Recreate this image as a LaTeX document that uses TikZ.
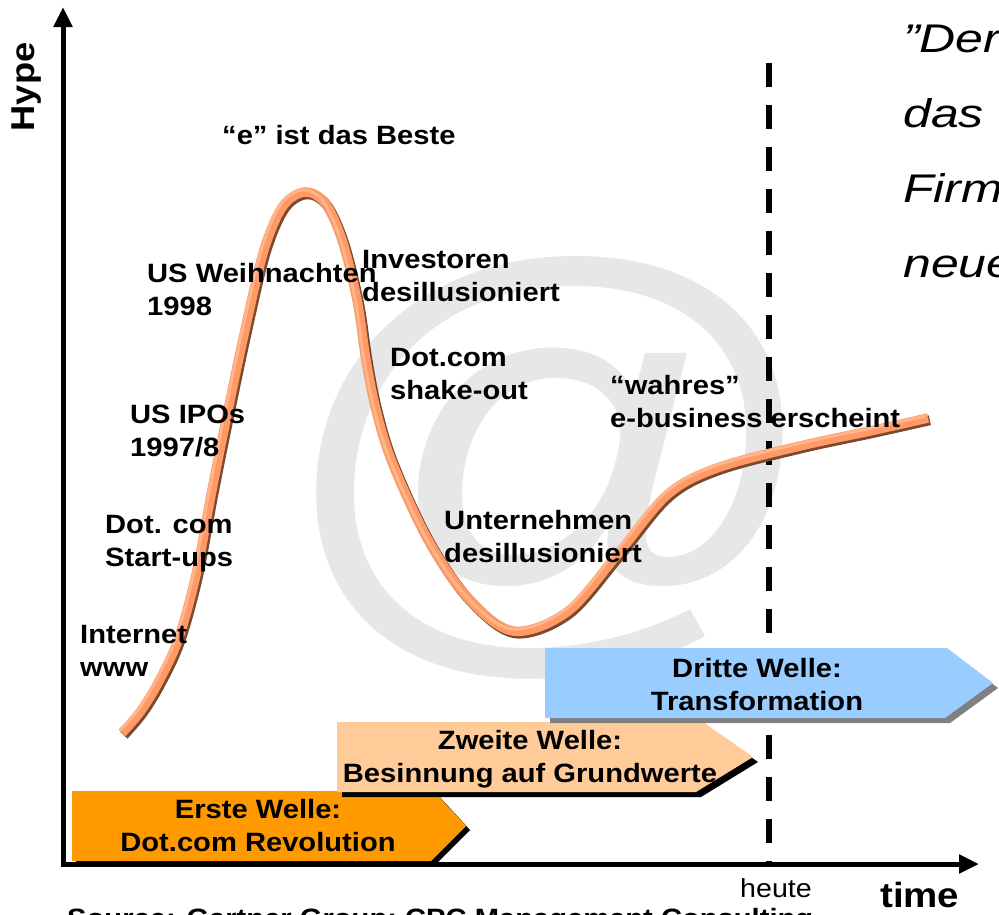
\documentclass[tikz,border=0pt]{standalone}
\usepackage{fontspec}
\setmainfont[FakeStretch=1.1]{Liberation Sans}
\newfontfamily\quotefont[FakeStretch=1.25]{Liberation Sans}
\newfontfamily\wmfont[FakeStretch=1.12]{Liberation Sans}
\usetikzlibrary{arrows.meta}
\definecolor{ersteC}{HTML}{FF9900}
\definecolor{zweiteC}{HTML}{FFCC99}
\definecolor{dritteC}{HTML}{99CCFF}
\definecolor{dritteS}{HTML}{808080}
\definecolor{hypeC}{HTML}{FF9966}
\definecolor{hypeS}{HTML}{7A4A2E}
\definecolor{hypeH}{HTML}{FFBC96}
\definecolor{wmC}{HTML}{E7E7E7}
\begin{document}
\begin{tikzpicture}[x=1pt,y=-1pt,
  lbl/.style={font=\fontsize{26.5}{33}\selectfont\bfseries, align=left, anchor=north west, inner sep=0pt},
  wtxt/.style={font=\fontsize{26.5}{33}\selectfont\bfseries, align=center, inner sep=0pt},
  axisline/.style={line width=5pt, line join=miter, {Triangle[length=20pt,width=18pt]}-{Triangle[length=20pt,width=18pt]}},
  dashline/.style={line width=6pt, dash pattern=on 24pt off 18pt},
  hypeshadow/.style={draw=hypeS, line width=10pt, shift={(1.8,2.2)}},
  hypebody/.style={draw=hypeC, line width=9.5pt},
  hypehigh/.style={draw=hypeH, line width=3pt, shift={(-2.2,-2.2)}}]
\useasboundingbox (0,0) rectangle (999,914);
\fill[white] (0,0) rectangle (999,914);

% watermark
\node[text=wmC, font=\fontsize{490}{490}\selectfont\wmfont, inner sep=0pt] (at) at (552,468) {@};

% dashed "heute" line
\coordinate (dtop) at (769,63);
\coordinate (dbot) at (769,864);
\draw[dashline] (dtop) -- (dbot);

% hype curve
\draw[hypeshadow] plot[smooth, tension=0.55] coordinates {(122,733) (140,712) (158,683) (178,640) (196,575) (211,495) (226,420) (245,330) (264,250) (283,206) (305,192) (325,203) (342,240) (357,300) (366,360) (376,410) (392,462) (427,538) (467,597) (513,631) (567,612) (617,555) (667,495) (717,468) (800,446) (870,431) (928,418)};
\draw[hypebody] plot[smooth, tension=0.55] coordinates {(122,733) (140,712) (158,683) (178,640) (196,575) (211,495) (226,420) (245,330) (264,250) (283,206) (305,192) (325,203) (342,240) (357,300) (366,360) (376,410) (392,462) (427,538) (467,597) (513,631) (567,612) (617,555) (667,495) (717,468) (800,446) (870,431) (928,418)};
\draw[hypehigh, opacity=0.8] plot[smooth, tension=0.55] coordinates {(122,733) (140,712) (158,683) (178,640) (196,575) (211,495) (226,420) (245,330) (264,250) (283,206) (305,192) (325,203) (342,240) (357,300) (366,360) (376,410) (392,462) (427,538) (467,597) (513,631) (567,612) (617,555) (667,495) (717,468) (800,446) (870,431) (928,418)};

% labels
\node[lbl] (beste) at (222,125) {“e” ist das Beste};
\node[lbl] (weihn) at (147,263) {US Weihnachten\\1998};
\node[lbl] (invest) at (362,250) {Investoren\\desillusioniert};
\node[lbl] (shake) at (390,348) {Dot.com\\shake-out};
\node[lbl] (ipos) at (130,405) {US IPOs\\1997/8};
\node[lbl] (wahres) at (610,375) {“wahres”\\e-business erscheint};
\node[lbl] (startups) at (105,515) {Dot. com\\Start-ups};
\node[lbl] (untern) at (444,510) {Unternehmen\\desillusioniert};
\node[lbl] (internet) at (80,625) {Internet\\www};

% waves
\fill[black, shift={(4,4)}] (72,791) -- (434,791) -- (466,826) -- (431,861) -- (72,861) -- cycle;
\fill[ersteC] (72,791) -- (434,791) -- (466,826) -- (431,861) -- (72,861) -- cycle;
\node[wtxt] (erste) at (258,826) {Erste Welle:\\Dot.com Revolution};

\fill[black, shift={(5,5)}] (337,722) -- (703,722) -- (753,757) -- (696,792) -- (337,792) -- cycle;
\fill[zweiteC] (337,722) -- (703,722) -- (753,757) -- (696,792) -- (337,792) -- cycle;
\node[wtxt] (zweite) at (530,759) {Zweite Welle:\\Besinnung auf Grundwerte};

\fill[dritteS, shift={(5,5)}] (545,648) -- (947,648) -- (993,683) -- (945,718) -- (545,718) -- cycle;
\fill[dritteC] (545,648) -- (947,648) -- (993,683) -- (945,718) -- (545,718) -- cycle;
\node[wtxt] (dritte) at (757,685) {Dritte Welle:\\Transformation};

% axes
\coordinate (ytip) at (63,7);
\coordinate (O) at (63,864);
\coordinate (xtip) at (979,864);
\draw[axisline] (ytip) -- (O) -- (xtip);

\node[font=\fontsize{33}{33}\selectfont\bfseries, rotate=90, inner sep=0pt] (hype) at (27,87) {Hype};
\node[font=\fontsize{35}{35}\selectfont\bfseries, anchor=base west, inner sep=0pt] (time) at (880,907) {time};
\node[font=\fontsize{26}{26}\selectfont, anchor=base west, inner sep=0pt] (heute) at (740,897) {heute};

% quote (cut at right edge)
\node[font=\fontsize{40}{75}\selectfont\quotefont\itshape, align=left, anchor=north west, inner sep=0pt] (quote) at (903,25) {”Der\\das\\Firm\\neue};

% source line (cut at bottom edge)
\node[lbl] (source) at (67,908) {Source: Gartner Group; CPC Management Consulting};
\end{tikzpicture}
\end{document}
